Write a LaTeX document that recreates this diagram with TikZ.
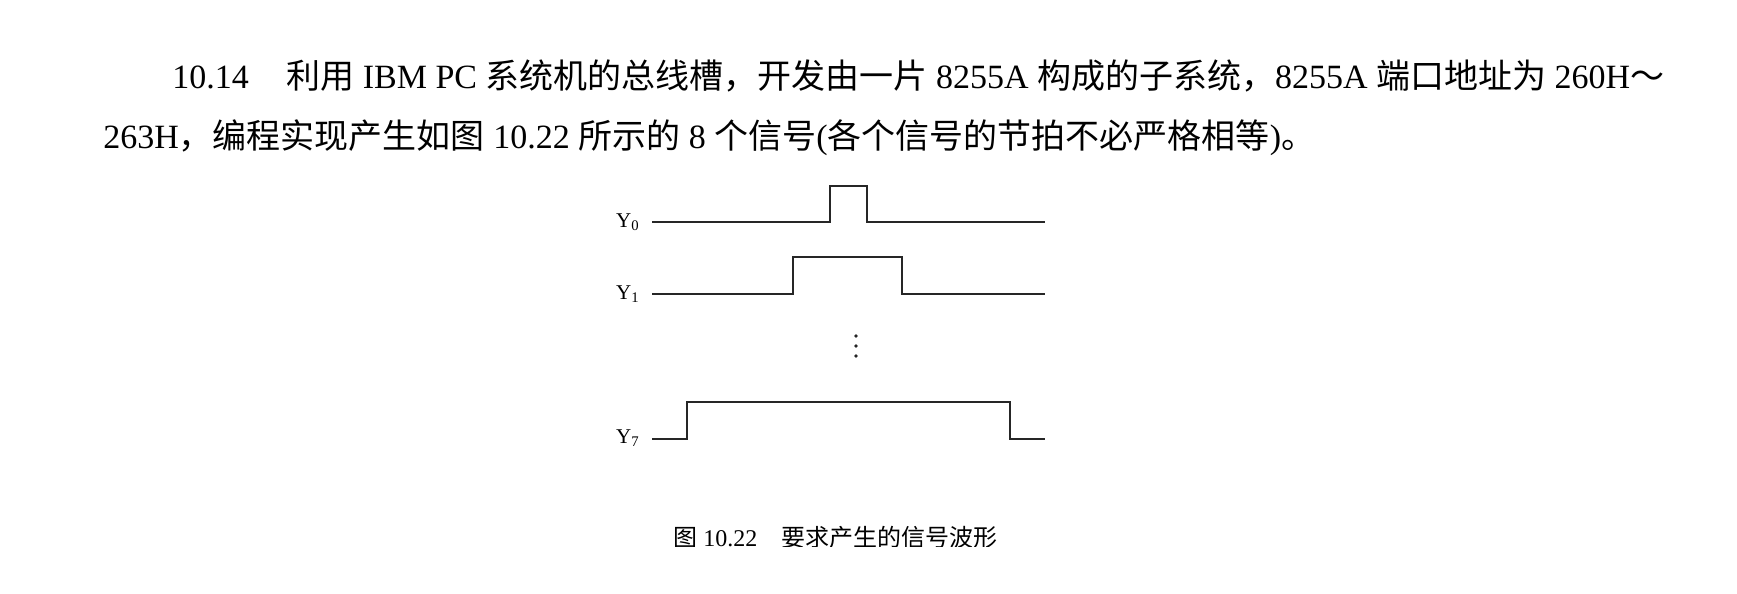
\documentclass[tikz,border=0pt]{standalone}
\usepackage{fontspec}
\setmainfont{Liberation Serif}
\newfontfamily\cjk{Noto Sans CJK SC}
\usetikzlibrary{positioning}

\begin{document}
\begin{tikzpicture}[x=0.5pt,y=-0.5pt,
    wave/.style={line width=1pt,black!85,line join=miter},
    ylabel/.style={inner sep=0pt,anchor=base east,font=\fontsize{10.5}{12}\selectfont},
    bodytext/.style={inner sep=0pt,anchor=base west,font=\fontsize{17}{20}\selectfont}]
            \useasboundingbox (0,0) rectangle (1737,594);
            \node[bodytext] (line1) at (172,88) {10.14\hspace{1.1em}{\cjk 利用} IBM PC {\cjk 系统机的总线槽，开发由一片} 8255A {\cjk 构成的子系统，}8255A {\cjk 端口地址为} 260H{\cjk ～}};
            \node[bodytext] (line2) at (103,148) {263H{\cjk ，编程实现产生如图} 10.22 {\cjk 所示的} 8 {\cjk 个信号}({\cjk 各个信号的节拍不必严格相等}){\cjk 。}};
            \node[ylabel] (y0) at (640,227) {Y\textsubscript{0}};
            \node[ylabel] (y1) at (640,299) {Y\textsubscript{1}};
            \node[ylabel] (y7) at (640,443.5) {Y\textsubscript{7}};
            \draw[wave] (652,221.6) -- (829.8,221.6) -- (829.8,186) -- (867,186) -- (867,221.6) -- (1045,221.6);
            \draw[wave] (652,293.8) -- (792.5,293.8) -- (792.5,256.5) -- (901.7,256.5) -- (901.7,293.8) -- (1045,293.8);
            \draw[wave] (652,438.5) -- (686.5,438.5) -- (686.5,402.3) -- (1010,402.3) -- (1010,438.5) -- (1045,438.5);
            \foreach \dy in {336,346,356}
                \fill[black!85] (856,\dy) circle (1.8);
            \begin{scope}
                \clip (0,0) rectangle (1737,546);
                \node[inner sep=0pt,anchor=base west,font=\fontsize{12}{14}\selectfont] (caption) at (673,546) {{\cjk 图} 10.22\quad{\cjk 要求产生的信号波形}};
            \end{scope}
        \end{tikzpicture}
\end{document}
